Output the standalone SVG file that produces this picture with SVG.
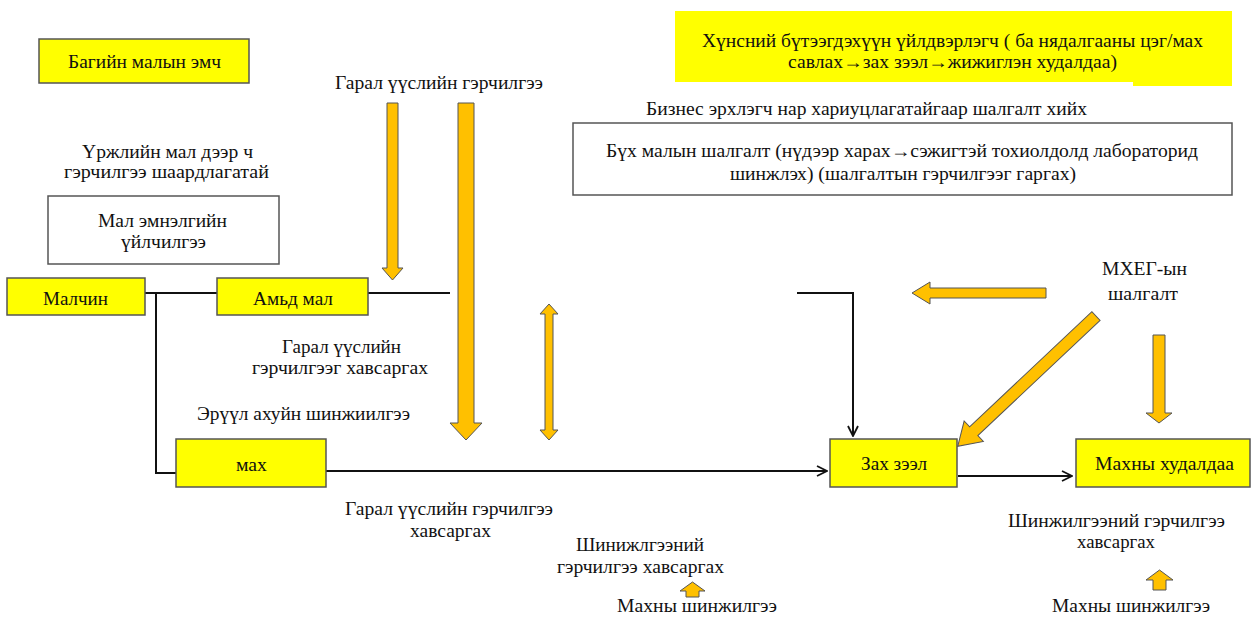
<svg xmlns="http://www.w3.org/2000/svg" width="1252" height="617" viewBox="0 0 1252 617" font-family="'Liberation Serif', 'DejaVu Serif', serif">
<style>
text{font-family:"Liberation Serif","DejaVu Serif",serif;font-size:18px;fill:#111;text-anchor:middle}
.y{fill:#FFFF00;stroke:#555;stroke-width:1.5}
.w{fill:#fff;stroke:#555;stroke-width:1.5}
.o{fill:#FFC000;stroke:#555;stroke-width:1}
.c{fill:none;stroke:#111;stroke-width:2}
</style>
<defs>
<marker id="ah" viewBox="0 0 12 12" refX="11" refY="6" markerWidth="12" markerHeight="12" markerUnits="userSpaceOnUse" orient="auto">
<path d="M1,1 L11,6 L1,11" fill="none" stroke="#111" stroke-width="1.8"/>
</marker>
</defs>
<rect x="0" y="0" width="1252" height="617" fill="#fff"/>

<g id="connectors">
<line class="c" x1="145" y1="293" x2="217" y2="293"/>
<polyline class="c" points="156,293 156,473 176,473"/>
<line class="c" x1="368" y1="293" x2="450" y2="293"/>
<polyline class="c" points="797,293 853,293 853,436" stroke-width="2.5" marker-end="url(#ah)"/>
<line class="c" x1="326" y1="471" x2="827" y2="471" marker-end="url(#ah)"/>
<line class="c" x1="958" y1="476" x2="1072" y2="476" marker-end="url(#ah)"/>
</g>

<g id="orange-arrows">
<polygon class="o" points="387,103 398,103 398,268 403,268 392.5,280 382,268 387,268"/>
<polygon class="o" points="458,103 474,103 474,423 482,423 466,440 450,423 458,423"/>
<polygon class="o" points="549,304 558,314 553,314 553,430 558,430 549,440 540,430 545,430 545,314 540,314"/>
<polygon class="o" points="912,293 930,282 930,288 1046,288 1046,298 930,298 930,304"/>
<polygon class="o" transform="translate(1096,316) rotate(136.7)" points="0,-6 168,-6 168,-14 190,0 168,14 168,6 0,6"/>
<polygon class="o" points="1153,335 1165,335 1165,413 1172,413 1159,423 1146,413 1153,413"/>
<polygon class="o" points="692.5,582 705,591 699,591 699,597 686,597 686,591 680,591"/>
<polygon class="o" points="1159.5,570 1173,580 1166,580 1166,590 1153,590 1153,580 1146,580"/>
</g>

<g id="node-bagiin">
<rect class="y" x="39" y="39" width="210" height="44"/>
<text x="144.5" y="68" textLength="153" lengthAdjust="spacingAndGlyphs">Багийн малын эмч</text>
</g>
<g id="node-khunsnii">
<path d="M675,11 H1232 V86 H1133 V82 H675 Z" fill="#FFFF00"/>
<text x="952.5" y="47" textLength="501" lengthAdjust="spacingAndGlyphs">Хүнсний бүтээгдэхүүн үйлдвэрлэгч ( ба нядалгааны цэг/мах</text>
<text x="952.5" y="68" textLength="329" lengthAdjust="spacingAndGlyphs">савлах→зах зээл→жижиглэн худалдаа)</text>
</g>
<g id="label-biznes">
<text x="866.5" y="115" textLength="441" lengthAdjust="spacingAndGlyphs">Бизнес эрхлэгч нар хариуцлагатайгаар шалгалт хийх</text>
</g>
<g id="node-bukh">
<rect class="w" x="573" y="123" width="659" height="72"/>
<text x="902" y="157" textLength="592" lengthAdjust="spacingAndGlyphs">Бүх малын шалгалт (нүдээр харах→сэжигтэй тохиолдолд лабораторид</text>
<text x="903" y="180" textLength="346" lengthAdjust="spacingAndGlyphs">шинжлэх) (шалгалтын гэрчилгээг гаргах)</text>
</g>
<g id="label-urjliin">
<text x="167.5" y="158" textLength="171" lengthAdjust="spacingAndGlyphs">Үржлийн мал дээр ч</text>
<text x="166.5" y="178" textLength="205" lengthAdjust="spacingAndGlyphs">гэрчилгээ  шаардлагатай</text>
</g>
<g id="node-mal-emnelgiin">
<rect class="w" x="48" y="196" width="231" height="68"/>
<text x="162.5" y="227" textLength="129" lengthAdjust="spacingAndGlyphs">Мал эмнэлгийн</text>
<text x="163.5" y="248" textLength="85" lengthAdjust="spacingAndGlyphs">үйлчилгээ</text>
</g>
<g id="label-garal-top">
<text x="439" y="89" textLength="208" lengthAdjust="spacingAndGlyphs">Гарал үүслийн гэрчилгээ</text>
</g>
<g id="node-malchin">
<rect class="y" x="7" y="278" width="138" height="37"/>
<text x="75.5" y="305" textLength="65" lengthAdjust="spacingAndGlyphs">Малчин</text>
</g>
<g id="node-amid-mal">
<rect class="y" x="217" y="278" width="151" height="37"/>
<text x="293" y="305" textLength="80" lengthAdjust="spacingAndGlyphs">Амьд мал</text>
</g>
<g id="label-garal-khavsargakh">
<text x="341.5" y="353" textLength="119" lengthAdjust="spacingAndGlyphs">Гарал үүслийн</text>
<text x="340" y="374" textLength="176" lengthAdjust="spacingAndGlyphs">гэрчилгээг хавсаргах</text>
</g>
<g id="label-eruul">
<text x="303.5" y="420" textLength="213" lengthAdjust="spacingAndGlyphs">Эрүүл ахуйн шинжиилгээ</text>
</g>
<g id="node-makh">
<rect class="y" x="176" y="439" width="150" height="48"/>
<text x="251.5" y="471" textLength="31" lengthAdjust="spacingAndGlyphs">мах</text>
</g>
<g id="node-zakh-zeel">
<rect class="y" x="830" y="439" width="127" height="48"/>
<text x="894" y="470" textLength="66" lengthAdjust="spacingAndGlyphs">Зах зээл</text>
</g>
<g id="node-makhny-khudaldaa">
<rect class="y" x="1076" y="439" width="174" height="48"/>
<text x="1164.5" y="470" textLength="139" lengthAdjust="spacingAndGlyphs">Махны худалдаа</text>
</g>
<g id="label-mkheg">
<text x="1144.5" y="275" textLength="85" lengthAdjust="spacingAndGlyphs">МХЕГ-ын</text>
<text x="1143" y="300" textLength="70" lengthAdjust="spacingAndGlyphs">шалгалт</text>
</g>
<g id="label-garal-bottom">
<text x="449" y="515" textLength="208" lengthAdjust="spacingAndGlyphs">Гарал үүслийн гэрчилгээ</text>
<text x="450.5" y="537" textLength="81" lengthAdjust="spacingAndGlyphs">хавсаргах</text>
</g>
<g id="label-shinijlgeenii">
<text x="640" y="551" textLength="128" lengthAdjust="spacingAndGlyphs">Шинижлгээний</text>
<text x="640.5" y="573" textLength="167" lengthAdjust="spacingAndGlyphs">гэрчилгээ хавсаргах</text>
</g>
<g id="label-makhny-shinjilgee-1">
<text x="697" y="612" textLength="160" lengthAdjust="spacingAndGlyphs">Махны шинжилгээ</text>
</g>
<g id="label-shinjilgeenii-r">
<text x="1116.5" y="527" textLength="217" lengthAdjust="spacingAndGlyphs">Шинжилгээний гэрчилгээ</text>
<text x="1116" y="548" textLength="78" lengthAdjust="spacingAndGlyphs">хавсаргах</text>
</g>
<g id="label-makhny-shinjilgee-2">
<text x="1131" y="612" textLength="158" lengthAdjust="spacingAndGlyphs">Махны шинжилгээ</text>
</g>
</svg>
